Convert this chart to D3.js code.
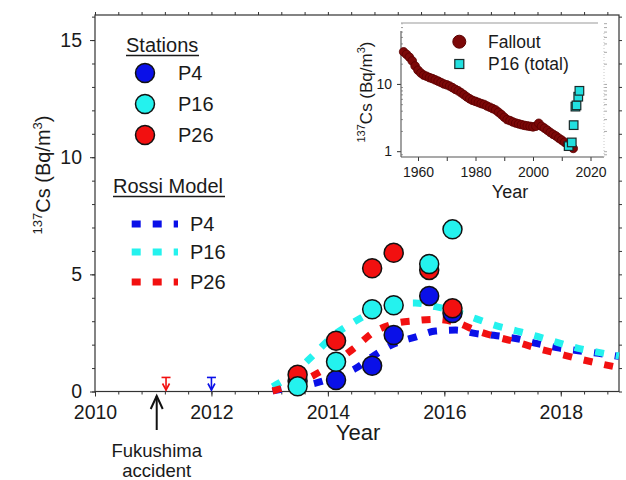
<!DOCTYPE html>
<html><head><meta charset="utf-8">
<script src="https://cdn.jsdelivr.net/npm/d3@7"></script>
<style>
body{margin:0;background:#fff}
svg{display:block}
text{font-family:"Liberation Sans",Arial,sans-serif;fill:#1a1a1a}
</style>
</head><body>
<svg id="c" width="626" height="480"></svg>
<script>
// ---------- data ----------
const stationNames = ["P4", "P16", "P26"];
const stationColors = ["#0a10e8", "#24f2ee", "#f21010"];
const sampleYears = [2013.48, 2014.14, 2014.76, 2015.13, 2015.74, 2016.14];
const p4Values  = [0.45, 0.49, 1.10, 2.41, 4.08, 3.35];
const p16Values = [0.22, 1.27, 3.51, 3.68, 5.44, 6.92];
const p26Values = [0.72, 2.17, 5.26, 5.92, 5.19, 3.55];

const modelYears = [2013.05, 2013.4, 2013.75, 2014.1, 2014.45, 2014.8, 2015.15, 2015.5, 2015.85,
                    2016.2, 2016.55, 2016.9, 2017.25, 2017.6, 2017.95, 2018.3, 2018.65, 2019.0];
const modelP4  = [0.03, 0.18, 0.33, 0.60, 0.95, 1.55, 2.05, 2.32, 2.58, 2.62, 2.47, 2.38, 2.25, 2.04, 1.86, 1.74, 1.63, 1.50];
const modelP16 = [0.20, 0.75, 1.55, 2.40, 2.97, 3.45, 3.78, 3.78, 3.62, 3.40, 3.10, 2.80, 2.58, 2.35, 2.09, 1.84, 1.67, 1.52];
const modelP26 = [0.02, 0.30, 0.68, 1.20, 1.85, 2.55, 2.90, 3.02, 3.08, 2.95, 2.60, 2.33, 2.10, 1.84, 1.62, 1.40, 1.20, 1.02];

const limitYears  = [2011.22, 2012.0];   // red, blue detection-limit arrows
const limitValues = [0.6, 0.6];
const limitColors = ["#f21010", "#0a10e8"];
const fukushimaYear = 2011.06;

const xMajorTicks = [2010, 2012, 2014, 2016, 2018];
const yMajorTicks = [0, 5, 10, 15];

// inset data
const falloutYears = d3.range(1955, 2015);
const falloutValues = [30, 27.5, 25, 22, 18.5, 16, 14.5, 13.5, 13, 12.4,
                       12, 11.5, 11, 10.5, 10, 9.7, 9.3, 8.8, 8.3, 7.9,
                       7.4, 6.9, 6.4, 6.0, 5.7, 5.5, 5.3, 5.1, 4.95, 4.7,
                       4.5, 4.3, 4.1, 3.8, 3.5, 3.2, 2.95, 2.85, 2.72, 2.62,
                       2.55, 2.48, 2.42, 2.38, 2.34, 2.3, 2.35, 2.6, 2.35, 2.2,
                       2.05, 1.9, 1.78, 1.68, 1.56, 1.46, 1.36, 1.26, 1.18, 1.1];
const p16TotalYears  = [2012.4, 2013.48, 2014.14, 2014.76, 2015.13, 2015.74, 2016.14];
const p16TotalValues = [1.19, 1.35, 2.44, 4.6, 4.8, 6.46, 7.9];
const insetXTicks = [1960, 1970, 1980, 1990, 2000, 2010, 2020];
const insetXLabels = [1960, 1980, 2000, 2020];
const insetYLabels = [1, 10];

// ---------- main chart ----------
const svg = d3.select("#c");
const x = d3.scaleLinear().domain([2010, 2019]).range([95, 619]);
const y = d3.scaleLinear().domain([0, 16.07]).range([391.5, 15]);
const axisCol = "#333";

function styleAxis(g){
  g.select(".domain").remove();
  g.selectAll(".tick line").attr("stroke", axisCol).attr("stroke-width", 1);
  g.selectAll(".tick text").style("font-size", "19.5px").attr("fill", "#1a1a1a");
}
const xMinor = d3.range(2010, 2019.01, 0.4);
const yMinor = d3.range(0, 16.01, 1);

// bottom
svg.append("g").attr("transform", `translate(0,${y(0)})`)
  .call(d3.axisBottom(x).tickValues(xMinor).tickSize(3).tickFormat("")).call(styleAxis);
svg.append("g").attr("transform", `translate(0,${y(0)})`)
  .call(d3.axisBottom(x).tickValues(xMajorTicks).tickSize(5).tickPadding(9).tickFormat(d3.format("d"))).call(styleAxis);
// top
svg.append("g").attr("transform", `translate(0,${y.range()[1]})`)
  .call(d3.axisTop(x).tickValues(xMinor).tickSize(3).tickFormat("")).call(styleAxis);
// left
svg.append("g").attr("transform", `translate(${x(2010)},0)`)
  .call(d3.axisLeft(y).tickValues(yMinor).tickSize(3).tickFormat("")).call(styleAxis);
svg.append("g").attr("transform", `translate(${x(2010)},0)`)
  .call(d3.axisLeft(y).tickValues(yMajorTicks).tickSize(5).tickPadding(8)).call(styleAxis);
// right
svg.append("g").attr("transform", `translate(${x(2019)},0)`)
  .call(d3.axisRight(y).tickValues(yMinor).tickSize(3).tickFormat("")).call(styleAxis);

svg.append("rect")
  .attr("x", x(2010)).attr("y", y.range()[1])
  .attr("width", x(2019) - x(2010)).attr("height", y(0) - y.range()[1])
  .attr("fill", "none").attr("stroke", axisCol).attr("stroke-width", 1.2);

// model lines
const line = d3.line().x((d, i) => x(modelYears[i])).y(d => y(d)).curve(d3.curveMonotoneX);
[modelP4, modelP16, modelP26].forEach((m, k) => {
  svg.append("path").attr("d", line(m))
    .attr("fill", "none").attr("stroke", stationColors[k])
    .attr("stroke-width", 7).attr("stroke-dasharray", "9,12");
});

// station points (blue, red, cyan drawing order)
const stationVals = [p4Values, p16Values, p26Values];
[0, 2, 1].forEach(k => {
  svg.append("g").selectAll("circle").data(stationVals[k]).join("circle")
    .attr("cx", (d, i) => x(sampleYears[i])).attr("cy", d => y(d)).attr("r", 9.5)
    .attr("fill", stationColors[k]).attr("stroke", "#111").attr("stroke-width", 1.5);
});

// detection-limit arrows
limitYears.forEach((yr, i) => {
  const cx = x(yr), top = y(limitValues[i]), bot = y(0);
  const g = svg.append("g").attr("stroke", limitColors[i]).attr("stroke-width", 1.6).attr("fill", "none");
  g.append("line").attr("x1", cx - 4.5).attr("x2", cx + 4.5).attr("y1", top).attr("y2", top);
  g.append("line").attr("x1", cx).attr("x2", cx).attr("y1", top).attr("y2", bot - 1);
  g.append("path").attr("d", `M${cx - 3.5},${bot - 8} L${cx},${bot - 1.5} L${cx + 3.5},${bot - 8}`);
});

// Fukushima arrow
{
  const fx = x(fukushimaYear);
  const g = svg.append("g").attr("stroke", "#111").attr("stroke-width", 2).attr("fill", "none");
  g.append("line").attr("x1", fx).attr("x2", fx).attr("y1", 396).attr("y2", 430);
  g.append("path").attr("d", `M${fx - 6},${409} L${fx},${396} L${fx + 6},${409}`);
  svg.append("text").attr("x", fx).attr("y", 457).attr("text-anchor", "middle")
    .style("font-size", "18.5px").text("Fukushima");
  svg.append("text").attr("x", fx).attr("y", 477).attr("text-anchor", "middle")
    .style("font-size", "18.5px").text("accident");
}

// axis titles
svg.append("text").attr("x", 358).attr("y", 440).attr("text-anchor", "middle")
  .style("font-size", "22px").text("Year");
{
  const t = svg.append("text").attr("transform", "translate(50,175) rotate(-90)")
    .attr("text-anchor", "middle").style("font-size", "20px");
  t.append("tspan").style("font-size", "13px").attr("dy", -8).text("137");
  t.append("tspan").attr("dy", 8).text("Cs (Bq/m");
  t.append("tspan").style("font-size", "13px").attr("dy", -8).text("3");
  t.append("tspan").attr("dy", 8).text(")");
}

// legend: stations
{
  const lg = svg.append("g");
  lg.append("text").attr("x", 126).attr("y", 52).style("font-size", "20px").text("Stations");
  lg.append("line").attr("x1", 126).attr("x2", 199).attr("y1", 55.5).attr("y2", 55.5)
    .attr("stroke", "#1a1a1a").attr("stroke-width", 1.4);
  const sy = [73, 104, 135];
  stationNames.forEach((n, k) => {
    lg.append("circle").attr("cx", 145).attr("cy", sy[k]).attr("r", 9.5)
      .attr("fill", stationColors[k]).attr("stroke", "#111").attr("stroke-width", 1.5);
    lg.append("text").attr("x", 178).attr("y", sy[k] + 7).style("font-size", "20px").text(n);
  });
  lg.append("text").attr("x", 113).attr("y", 193).style("font-size", "20px").text("Rossi Model");
  lg.append("line").attr("x1", 113).attr("x2", 225).attr("y1", 196.5).attr("y2", 196.5)
    .attr("stroke", "#1a1a1a").attr("stroke-width", 1.4);
  const my = [224, 252, 282];
  stationNames.forEach((n, k) => {
    lg.append("line").attr("x1", 131.7).attr("x2", 178).attr("y1", my[k]).attr("y2", my[k])
      .attr("stroke", stationColors[k]).attr("stroke-width", 7).attr("stroke-dasharray", "9,12");
    lg.append("text").attr("x", 190).attr("y", my[k] + 7).style("font-size", "20px").text(n);
  });
}

// ---------- inset ----------
const ix = d3.scaleLinear().domain([1960, 2020]).range([418, 590.5]);
const iy = d3.scaleLog().domain([0.82, 80.5]).range([157, 23]);
const iL = 401, iR = 604, iT = 23, iB = 157;
const inset = svg.append("g");
inset.append("rect").attr("x", iL).attr("y", iT).attr("width", iR - iL).attr("height", iB - iT).attr("fill", "#fff");

// inset axes
const gix = inset.append("g").attr("transform", `translate(0,${iB})`)
  .call(d3.axisBottom(ix).tickValues(insetXTicks).tickSize(4).tickPadding(6)
    .tickFormat(d => insetXLabels.includes(d) ? d : ""));
gix.select(".domain").remove();
gix.selectAll(".tick line").attr("stroke", axisCol);
gix.selectAll(".tick text").style("font-size", "14px");

const minorLog = [0.9, 2,3,4,5,6,7,8,9, 20,30,40,50,60,70,80];
const giy = inset.append("g").attr("transform", `translate(${iL},0)`)
  .call(d3.axisLeft(iy).tickValues(insetYLabels).tickSize(4).tickPadding(5).tickFormat(d3.format("d")));
giy.select(".domain").remove();
giy.selectAll(".tick line").attr("stroke", axisCol);
giy.selectAll(".tick text").style("font-size", "14px");
const giym = inset.append("g").attr("transform", `translate(${iL},0)`)
  .call(d3.axisRight(iy).tickValues(minorLog).tickSize(2).tickFormat(""));
giym.select(".domain").remove();
giym.selectAll(".tick line").attr("stroke", "#999");

const giyr = inset.append("g").attr("transform", `translate(${iR},0)`)
  .call(d3.axisRight(iy).tickValues(minorLog.concat(insetYLabels)).tickSize(3).tickFormat(""));
giyr.select(".domain").remove();
giyr.selectAll(".tick line").attr("stroke", "#aaa");

inset.append("line").attr("x1", iL).attr("x2", iL).attr("y1", iT + 8).attr("y2", iB).attr("stroke", "#555").attr("stroke-width", 1.1);
inset.append("line").attr("x1", iL).attr("x2", iR).attr("y1", iB).attr("y2", iB).attr("stroke", "#555").attr("stroke-width", 1.1);
inset.append("line").attr("x1", iL).attr("x2", iR - 6).attr("y1", iT).attr("y2", iT).attr("stroke", "#bbb").attr("stroke-width", 1.5);
inset.append("line").attr("x1", iR).attr("x2", iR).attr("y1", iT + 10).attr("y2", iB).attr("stroke", "#c8c8c8").attr("stroke-width", 1).attr("stroke-dasharray", "1,2");

// fallout
inset.append("g").selectAll("circle").data(falloutValues).join("circle")
  .attr("cx", (d, i) => ix(falloutYears[i])).attr("cy", d => iy(d)).attr("r", 4.3)
  .attr("fill", "#7c0808").attr("stroke", "#5a0000").attr("stroke-width", 0.8);
// P16 total
inset.append("g").selectAll("rect").data(p16TotalValues).join("rect")
  .attr("x", (d, i) => ix(p16TotalYears[i]) - 4.3).attr("y", d => iy(d) - 4.3)
  .attr("width", 8.6).attr("height", 8.6)
  .attr("fill", "#22e0e0").attr("stroke", "#1a2a2a").attr("stroke-width", 1.2);

// inset legend
inset.append("circle").attr("cx", 459.3).attr("cy", 41.7).attr("r", 6.5)
  .attr("fill", "#7c0808").attr("stroke", "#5a0000");
inset.append("text").attr("x", 488).attr("y", 47.7).style("font-size", "17.5px").text("Fallout");
inset.append("rect").attr("x", 459.3 - 4.5).attr("y", 64 - 4.5).attr("width", 9).attr("height", 9)
  .attr("fill", "#22e0e0").attr("stroke", "#1a2a2a").attr("stroke-width", 1.2);
inset.append("text").attr("x", 488).attr("y", 70).style("font-size", "17.5px").text("P16 (total)");

// inset titles
inset.append("text").attr("x", 510).attr("y", 198).attr("text-anchor", "middle")
  .style("font-size", "18px").text("Year");
{
  const t = inset.append("text").attr("transform", "translate(372,92) rotate(-90)")
    .attr("text-anchor", "middle").style("font-size", "17px");
  t.append("tspan").style("font-size", "11px").attr("dy", -7).text("137");
  t.append("tspan").attr("dy", 7).text("Cs (Bq/m");
  t.append("tspan").style("font-size", "11px").attr("dy", -7).text("3");
  t.append("tspan").attr("dy", 7).text(")");
}
</script>
</body></html>
